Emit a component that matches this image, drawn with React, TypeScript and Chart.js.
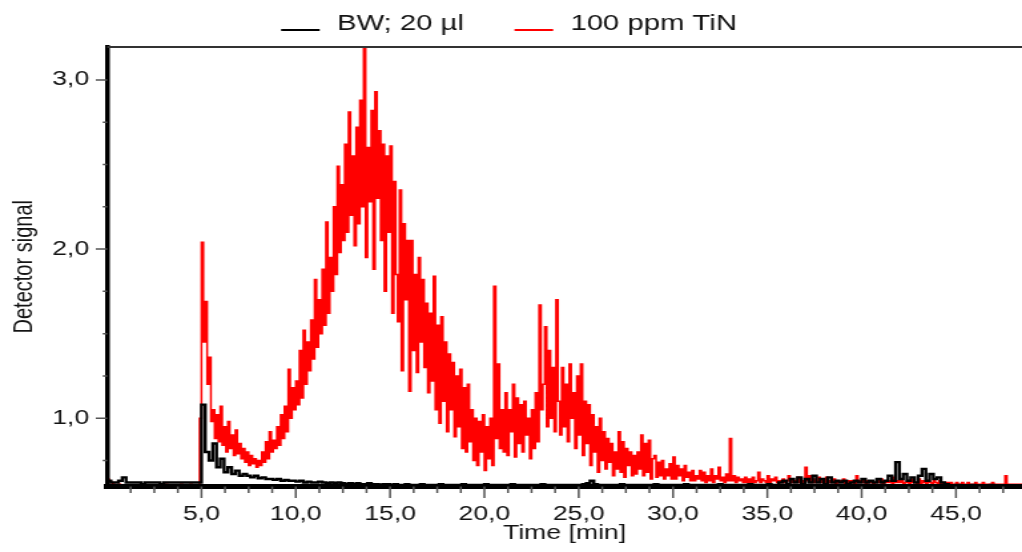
import React, { useEffect, useRef } from 'react';
import { Chart, registerables } from 'chart.js';

Chart.register(...registerables);

// ---------- data ----------
const BW_STEP_MIN = 0.2; // sampling interval of the blank trace (min)
const TIN_STEP_MIN = 0.1; // sampling interval of the TiN trace (min)

const SERIES_LABELS = ['BW; 20 µl', '100 ppm TiN'];
const SERIES_COLORS = ['#000000', '#ff0000'];

// Blank (BW; 20 µl) detector signal, one value per 0.2 min starting at 0 min
const BW_SIGNAL = [
  0.63, 0.62, 0.62, 0.63, 0.65, 0.62, 0.62, 0.62, 0.62, 0.61,
  0.62, 0.62, 0.62, 0.62, 0.61, 0.62, 0.62, 0.62, 0.62, 0.62,
  0.62, 0.62, 0.62, 0.62, 0.62, 1.08, 0.80, 0.75, 0.85, 0.71,
  0.76, 0.68, 0.71, 0.67, 0.69, 0.66, 0.67, 0.66, 0.65, 0.66,
  0.645, 0.65, 0.64, 0.64, 0.635, 0.64, 0.63, 0.635, 0.63, 0.63,
  0.625, 0.63, 0.62, 0.625, 0.62, 0.62, 0.625, 0.62, 0.615, 0.62,
  0.615, 0.62, 0.615, 0.61, 0.615, 0.61, 0.615, 0.61, 0.61, 0.615,
  0.61, 0.61, 0.605, 0.61, 0.61, 0.605, 0.61, 0.605, 0.605, 0.61,
  0.605, 0.605, 0.605, 0.61, 0.605, 0.605, 0.605, 0.605, 0.61, 0.605,
  0.605, 0.605, 0.605, 0.605, 0.61, 0.605, 0.605, 0.605, 0.605, 0.605,
  0.61, 0.605, 0.605, 0.605, 0.605, 0.605, 0.605, 0.61, 0.605, 0.605,
  0.605, 0.605, 0.605, 0.605, 0.605, 0.61, 0.605, 0.605, 0.605, 0.605,
  0.605, 0.605, 0.605, 0.605, 0.605, 0.605, 0.61, 0.615, 0.63, 0.61,
  0.605, 0.605, 0.605, 0.605, 0.605, 0.605, 0.61, 0.605, 0.605, 0.605,
  0.605, 0.605, 0.605, 0.605, 0.605, 0.61, 0.605, 0.605, 0.605, 0.605,
  0.605, 0.605, 0.605, 0.61, 0.605, 0.605, 0.605, 0.605, 0.605, 0.605,
  0.605, 0.605, 0.61, 0.605, 0.605, 0.605, 0.605, 0.605, 0.605, 0.605,
  0.61, 0.605, 0.605, 0.605, 0.605, 0.61, 0.605, 0.605, 0.62, 0.63,
  0.61, 0.64, 0.62, 0.65, 0.61, 0.64, 0.62, 0.66, 0.62, 0.64,
  0.61, 0.65, 0.62, 0.63, 0.62, 0.63, 0.61, 0.62, 0.63, 0.62,
  0.64, 0.62, 0.63, 0.62, 0.64, 0.62, 0.63, 0.66, 0.63, 0.74,
  0.64, 0.67, 0.63, 0.65, 0.62, 0.66, 0.70, 0.63, 0.67, 0.64,
  0.65, 0.62, 0.61, 0.60, 0.60, 0.605, 0.60, 0.60, 0.60, 0.605,
  0.60, 0.60, 0.60, 0.60, 0.605, 0.60, 0.60, 0.60, 0.60, 0.60,
  0.60, 0.60, 0.60, 0.60,
];

// 100 ppm TiN detector signal, one value per 0.1 min starting at 0 min (one row = 1 min)
const TIN_SIGNAL = [
  0.64, 0.63, 0.62, 0.61, 0.605, 0.605, 0.61, 0.605, 0.605, 0.605,
  0.605, 0.60, 0.605, 0.605, 0.605, 0.60, 0.605, 0.605, 0.61, 0.605,
  0.605, 0.605, 0.60, 0.605, 0.605, 0.605, 0.605, 0.60, 0.605, 0.605,
  0.605, 0.61, 0.605, 0.605, 0.605, 0.60, 0.605, 0.605, 0.605, 0.61,
  0.605, 0.605, 0.605, 0.605, 0.61, 0.605, 0.605, 0.605, 0.605, 1.00,
  2.04, 1.45, 1.69, 1.20, 1.36, 0.98, 1.05, 0.88, 1.02, 0.86,
  1.07, 0.84, 0.95, 0.80, 0.98, 0.82, 0.90, 0.78, 0.93, 0.79,
  0.85, 0.76, 0.82, 0.74, 0.80, 0.72, 0.78, 0.73, 0.76, 0.71,
  0.75, 0.72, 0.80, 0.74, 0.86, 0.76, 0.92, 0.80, 0.87, 0.82,
  0.95, 0.84, 1.02, 0.88, 1.07, 0.92, 1.29, 1.00, 1.18, 1.05,
  1.22, 1.08, 1.40, 1.12, 1.52, 1.20, 1.45, 1.28, 1.58, 1.35,
  1.82, 1.42, 1.70, 1.50, 1.88, 1.55, 2.16, 1.62, 1.95, 1.75,
  2.25, 1.85, 2.49, 1.98, 2.38, 2.05, 2.62, 2.10, 2.81, 2.20,
  2.55, 2.02, 2.72, 2.15, 2.88, 2.25, 3.30, 1.95, 2.60, 2.28,
  2.82, 1.88, 2.93, 2.30, 2.70, 2.05, 2.62, 1.75, 2.55, 2.10,
  2.61, 1.62, 2.40, 1.85, 1.57, 2.35, 1.28, 2.15, 1.70, 2.05,
  1.16, 2.05, 1.40, 1.85, 1.27, 1.95, 1.45, 1.82, 1.30, 1.68,
  1.15, 1.62, 1.22, 1.84, 1.05, 1.55, 0.97, 1.60, 1.10, 1.45,
  0.92, 1.38, 1.05, 1.33, 0.89, 1.25, 0.95, 1.29, 0.82, 1.18,
  0.80, 1.20, 0.86, 1.05, 0.75, 1.00, 0.72, 0.98, 0.80, 1.02,
  0.69, 0.95, 0.76, 1.00, 0.72, 1.78, 0.88, 1.32, 0.82, 1.05,
  0.80, 1.15, 0.78, 1.05, 0.92, 1.20, 0.77, 1.12, 0.85, 1.08,
  0.80, 1.10, 0.90, 1.00, 0.76, 1.05, 0.82, 1.15, 0.86, 1.67,
  1.05, 1.20, 1.54, 0.95, 1.40, 1.00, 1.30, 0.92, 1.70, 1.10,
  0.90, 1.30, 0.95, 1.20, 0.86, 1.32, 1.00, 1.15, 0.82, 1.25,
  0.90, 1.32, 0.78, 1.10, 0.85, 1.08, 0.72, 1.02, 0.80, 0.95,
  0.68, 1.00, 0.75, 0.92, 0.70, 0.88, 0.74, 0.85, 0.66, 0.80,
  0.70, 0.92, 0.68, 0.86, 0.65, 0.82, 0.72, 0.80, 0.66, 0.78,
  0.67, 0.80, 0.70, 0.90, 0.66, 0.85, 0.68, 0.87, 0.64, 0.76,
  0.78, 0.65, 0.74, 0.66, 0.75, 0.64, 0.70, 0.66, 0.73, 0.64,
  0.77, 0.64, 0.72, 0.66, 0.70, 0.63, 0.72, 0.65, 0.68, 0.63,
  0.69, 0.63, 0.66, 0.64, 0.69, 0.63, 0.68, 0.62, 0.66, 0.63,
  0.70, 0.62, 0.66, 0.64, 0.71, 0.63, 0.65, 0.62, 0.67, 0.63,
  0.88, 0.63, 0.66, 0.62, 0.65, 0.63, 0.64, 0.62, 0.65, 0.62,
  0.64, 0.62, 0.65, 0.62, 0.63, 0.68, 0.62, 0.64, 0.63, 0.62,
  0.66, 0.62, 0.64, 0.63, 0.65, 0.62, 0.63, 0.62, 0.64, 0.62,
  0.63, 0.66, 0.62, 0.64, 0.62, 0.63, 0.65, 0.62, 0.63, 0.62,
  0.71, 0.63, 0.66, 0.62, 0.64, 0.62, 0.63, 0.65, 0.62, 0.63,
  0.62, 0.65, 0.62, 0.63, 0.62, 0.64, 0.61, 0.63, 0.62, 0.63,
  0.64, 0.61, 0.63, 0.62, 0.63, 0.62, 0.61, 0.66, 0.62, 0.63,
  0.62, 0.64, 0.61, 0.63, 0.62, 0.63, 0.61, 0.62, 0.64, 0.62,
  0.64, 0.61, 0.63, 0.62, 0.62, 0.63, 0.61, 0.65, 0.62, 0.63,
  0.62, 0.63, 0.61, 0.62, 0.63, 0.61, 0.62, 0.64, 0.62, 0.61,
  0.64, 0.61, 0.63, 0.62, 0.61, 0.63, 0.62, 0.61, 0.63, 0.62,
  0.61, 0.63, 0.61, 0.62, 0.61, 0.62, 0.61, 0.62, 0.61, 0.61,
  0.62, 0.61, 0.61, 0.62, 0.61, 0.61, 0.62, 0.61, 0.61, 0.61,
  0.62, 0.61, 0.61, 0.61, 0.62, 0.61, 0.61, 0.61, 0.61, 0.62,
  0.61, 0.61, 0.61, 0.61, 0.61, 0.61, 0.66, 0.61, 0.61, 0.61,
  0.61, 0.61, 0.61, 0.61, 0.61, 0.61,
];

const X_MIN = 0;
const X_MAX = 48.5;
const Y_MIN = 0.596;
const Y_MAX = 3.195;

const X_MAJOR = [5, 10, 15, 20, 25, 30, 35, 40, 45];
const X_TICK_LABELS = ['5,0', '10,0', '15,0', '20,0', '25,0', '30,0', '35,0', '40,0', '45,0'];
const X_MINOR = [
  1.25, 2.5, 3.75, 6.25, 7.5, 8.75, 11.25, 12.5, 13.75, 16.25, 17.5, 18.75,
  21.25, 22.5, 23.75, 26.25, 27.5, 28.75, 31.25, 32.5, 33.75, 36.25, 37.5, 38.75,
  41.25, 42.5, 43.75, 46.25, 47.5,
];
const Y_MAJOR = [1, 2, 3];
const Y_TICK_LABELS = ['1,0', '2,0', '3,0'];
const Y_MINOR = [0.75, 1.25, 1.5, 1.75, 2.25, 2.5, 2.75];

const X_TITLE = 'Time [min]';
const Y_TITLE = 'Detector signal';

// ---------- rendering ----------
const CANVAS_W = 768; // internal drawing width (stretched to 1022 CSS px)
const CANVAS_H = 552;
const FONT_FAMILY = '"Liberation Sans", Arial, sans-serif';
const TEXT_COLOR = '#141414';

const toPoints = (vals: number[], step: number) => vals.map((v, i) => ({ x: i * step, y: v }));

const decorPlugin = {
  id: 'chromDecor',
  afterDraw(chart: any) {
    const { ctx, chartArea, scales } = chart;
    const { left, right, top, bottom } = chartArea;
    ctx.save();
    // top frame line
    ctx.strokeStyle = '#333333';
    ctx.lineWidth = 2;
    ctx.beginPath();
    ctx.moveTo(left, top);
    ctx.lineTo(right, top);
    ctx.stroke();

    // tick marks
    ctx.strokeStyle = '#555555';
    ctx.lineWidth = 1.5;
    ctx.beginPath();
    X_MINOR.forEach((v) => {
      const px = scales.x.getPixelForValue(v);
      ctx.moveTo(px, bottom);
      ctx.lineTo(px, bottom + 6.5);
    });
    X_MAJOR.forEach((v) => {
      const px = scales.x.getPixelForValue(v);
      ctx.moveTo(px, bottom);
      ctx.lineTo(px, bottom + 11.5);
    });
    Y_MINOR.forEach((v) => {
      const py = scales.y.getPixelForValue(v);
      ctx.moveTo(left - 3.3, py);
      ctx.lineTo(left, py);
    });
    Y_MAJOR.forEach((v) => {
      const py = scales.y.getPixelForValue(v);
      ctx.moveTo(left - 8.5, py);
      ctx.lineTo(left, py);
    });
    ctx.stroke();

    // legend
    const ds = chart.data.datasets;
    ctx.font = `22px ${FONT_FAMILY}`;
    ctx.textBaseline = 'middle';
    ctx.textAlign = 'left';
    const lineLen = 29;
    const gapText = 13;
    const gapItem = 38;
    const widths = ds.map((d: any) => ctx.measureText(d.label).width);
    const total = widths.reduce((a: number, w: number) => a + lineLen + gapText + w, 0) + gapItem * (ds.length - 1);
    let x = 382.5 - total / 2;
    ds.forEach((d: any, i: number) => {
      ctx.strokeStyle = d.borderColor;
      ctx.lineWidth = 2;
      ctx.beginPath();
      ctx.moveTo(x, 30);
      ctx.lineTo(x + lineLen, 30);
      ctx.stroke();
      ctx.fillStyle = TEXT_COLOR;
      ctx.fillText(d.label, x + lineLen + gapText, 24);
      x += lineLen + gapText + widths[i] + gapItem;
    });
    ctx.restore();
  },
};

export default function App() {
  const canvasRef = useRef<HTMLCanvasElement>(null);

  useEffect(() => {
    const canvas = canvasRef.current;
    if (!canvas) return;
    const tickFont = { family: FONT_FAMILY, size: 20 };
    const chart = new Chart(canvas, {
      type: 'line',
      data: {
        datasets: [
          {
            label: SERIES_LABELS[0],
            data: toPoints(BW_SIGNAL, BW_STEP_MIN),
            borderColor: SERIES_COLORS[0],
            backgroundColor: SERIES_COLORS[0],
            borderWidth: 2.4,
            stepped: true,
            pointRadius: 0,
            fill: false,
          },
          {
            label: SERIES_LABELS[1],
            data: toPoints(TIN_SIGNAL, TIN_STEP_MIN),
            borderColor: SERIES_COLORS[1],
            backgroundColor: SERIES_COLORS[1],
            borderWidth: 1.5,
            stepped: true,
            pointRadius: 0,
            fill: false,
          },
        ],
      },
      options: {
        animation: false,
        responsive: false,
        devicePixelRatio: 1,
        events: [],
        layout: { padding: { top: 47, left: 0, right: 0, bottom: 0 } },
        plugins: {
          legend: { display: false },
          tooltip: { enabled: false },
        },
        scales: {
          x: {
            type: 'linear',
            position: 'bottom',
            min: X_MIN,
            max: X_MAX,
            afterBuildTicks: (scale: any) => {
              scale.ticks = [...X_MAJOR, ...X_MINOR].sort((a, b) => a - b).map((v) => ({ value: v }));
            },
            afterFit: (scale: any) => {
              scale.height = 65.5;
              scale.paddingLeft = 0;
              scale.paddingRight = 0;
            },
            ticks: {
              autoSkip: false,
              maxRotation: 0,
              minRotation: 0,
              padding: 6,
              color: TEXT_COLOR,
              font: tickFont,
              callback: (value: any) => {
                const i = X_MAJOR.indexOf(Number(value));
                return i >= 0 ? X_TICK_LABELS[i] : '';
              },
            },
            grid: {
              display: true,
              drawOnChartArea: false,
              drawTicks: true,
              tickLength: 10,
              color: 'rgba(0,0,0,0)',
            },
            border: { display: true, color: '#000000', width: 5, z: 1 },
            title: {
              display: true,
              text: X_TITLE,
              color: TEXT_COLOR,
              font: tickFont,
              padding: { top: 0, bottom: 7 },
            },
          },
          y: {
            type: 'linear',
            position: 'left',
            min: Y_MIN,
            max: Y_MAX,
            afterBuildTicks: (scale: any) => {
              scale.ticks = [...Y_MAJOR, ...Y_MINOR].sort((a, b) => a - b).map((v) => ({ value: v }));
            },
            afterFit: (scale: any) => {
              scale.width = 80.5;
            },
            ticks: {
              padding: 5,
              color: TEXT_COLOR,
              font: tickFont,
              callback: (value: any) => {
                const i = Y_MAJOR.indexOf(Number(value));
                return i >= 0 ? Y_TICK_LABELS[i] : '';
              },
            },
            grid: {
              display: true,
              drawOnChartArea: false,
              drawTicks: true,
              tickLength: 8.5,
              color: 'rgba(0,0,0,0)',
            },
            border: { display: true, color: '#000000', width: 3.5, z: 1 },
            title: {
              display: true,
              text: Y_TITLE,
              color: TEXT_COLOR,
              font: tickFont,
              padding: { top: 6, bottom: 0 },
            },
          },
        },
      },
      plugins: [decorPlugin],
    } as any);
    return () => chart.destroy();
  }, []);

  return (
    <div style={{ position: 'fixed', left: 0, top: 0, width: 1022, height: 552, background: '#ffffff' }}>
      <canvas
        ref={canvasRef}
        width={CANVAS_W}
        height={CANVAS_H}
        style={{ width: '1022px', height: '552px', display: 'block' }}
      />
    </div>
  );
}
